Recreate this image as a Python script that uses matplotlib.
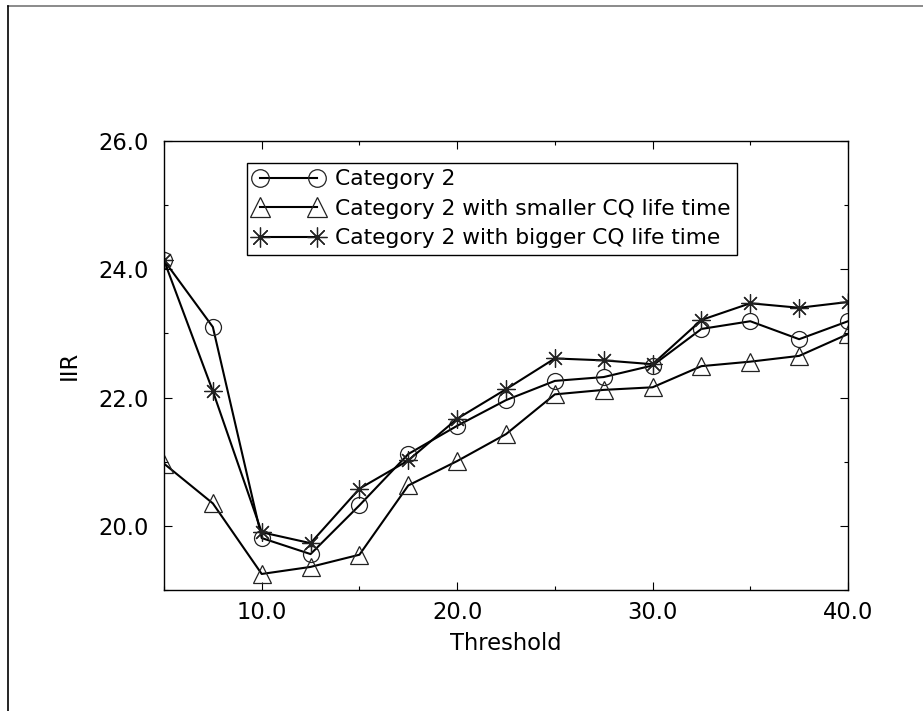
import matplotlib
matplotlib.use("Agg")
import matplotlib.pyplot as plt
from matplotlib.lines import Line2D
from matplotlib.ticker import MultipleLocator, FormatStrFormatter

plt.rcParams['font.family'] = ['DejaVu Sans']

threshold = [5, 7.5, 10, 12.5, 15, 17.5, 20, 22.5, 25, 27.5, 30, 32.5, 35, 37.5, 40]
cat2 = [24.14, 23.10, 19.81, 19.56, 20.32, 21.12, 21.56, 21.96, 22.26, 22.32,
        22.50, 23.07, 23.19, 22.91, 23.19]
cat2_smaller = [20.97, 20.35, 19.25, 19.36, 19.55, 20.63, 21.01, 21.43, 22.05, 22.12,
                22.16, 22.49, 22.56, 22.65, 22.99]
cat2_bigger = [24.14, 22.10, 19.90, 19.73, 20.58, 21.02, 21.67, 22.13, 22.61, 22.58,
               22.52, 23.21, 23.47, 23.40, 23.49]
labels = ["Category 2", "Category 2 with smaller CQ life time",
          "Category 2 with bigger CQ life time"]

W, H = 923, 711
fig = plt.figure(figsize=(W / 100, H / 100), dpi=100)
ax = fig.add_axes([164 / W, 1 - 590 / H, (848 - 164) / W, (590 - 141) / H])

common = dict(color='black', lw=1.5, mfc='none', mec='#222222', mew=0.9, ms=11.5)
ax.plot(threshold, cat2, marker='o', label=labels[0], **common)
ax.plot(threshold, cat2_smaller, marker='^', label=labels[1], **{**common, 'ms': 12.5})
ax.plot(threshold, cat2_bigger, marker=(8, 2, 0), label=labels[2], **{**common, 'ms': 13})

ax.set_xlim(5, 40)
ax.set_ylim(19, 26)
ax.xaxis.set_major_locator(MultipleLocator(10))
ax.xaxis.set_minor_locator(MultipleLocator(5))
ax.yaxis.set_major_locator(MultipleLocator(2))
ax.yaxis.set_minor_locator(MultipleLocator(1))
ax.xaxis.set_major_formatter(FormatStrFormatter('%.1f'))
ax.yaxis.set_major_formatter(FormatStrFormatter('%.1f'))
ax.tick_params(which='both', direction='in', top=True, right=True, width=0.8)
ax.tick_params(which='major', length=6, labelsize=16.3)
ax.tick_params(which='minor', length=3)
ax.tick_params(axis='x', which='major', pad=7.6)
ax.tick_params(axis='y', which='major', pad=11)
for s in ax.spines.values():
    s.set_linewidth(1.0)

ax.set_xlabel("Threshold", fontsize=16.3)
ax.set_ylabel("IIR", fontsize=16.3)
ax.xaxis.set_label_coords(0.5, (590 - 632) / 449)
ax.yaxis.set_label_coords((81 - 164) / 684, 0.5)

leg = ax.legend(loc='upper left', bbox_to_anchor=(247 / W, 1 - 162.7 / H),
                bbox_transform=fig.transFigure, borderaxespad=0, fontsize=15.7,
                numpoints=2, handlelength=3.22, handletextpad=0.51,
                borderpad=0.3, labelspacing=0.44, fancybox=False,
                framealpha=1, edgecolor='black', markerscale=1.1)
leg.get_frame().set_linewidth(1.0)

fig.add_artist(Line2D([8 / W, 1], [1 - 5.7 / H, 1 - 5.7 / H], color='#777777', lw=1.2,
                      transform=fig.transFigure))
fig.add_artist(Line2D([8.3 / W, 8.3 / W], [0, 1 - 5.7 / H], color='black', lw=1.2,
                      transform=fig.transFigure))

fig.savefig("out.png", dpi=100)
